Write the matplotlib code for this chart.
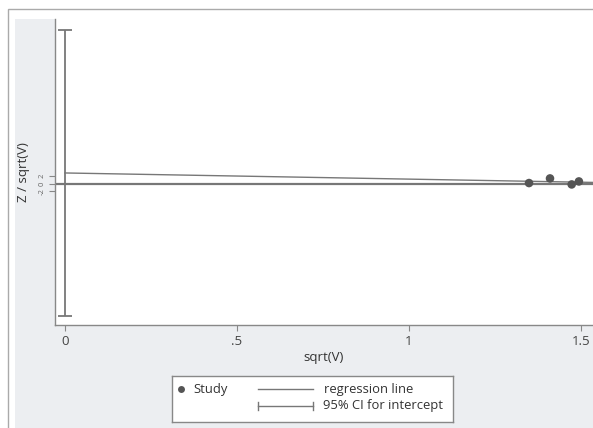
import matplotlib
matplotlib.use("Agg")
import matplotlib.pyplot as plt
import numpy as np

# data
study_x = [1.349, 1.41, 1.473, 1.494]
study_y = [0.18, 1.38, -0.18, 0.6]
intercept = 2.8
slope = -1.6
ci_low, ci_high = -34.3, 39.9
xticks = [0, 0.5, 1, 1.5]
xticklabels = ["0", ".5", "1", "1.5"]
yticks = [-2, 0, 2]
yticklabels = ["-2", "0", "2"]

W, H = 593, 428
bg = "#eceef1"
fig = plt.figure(figsize=(W / 100, H / 100), dpi=100)
fig.patch.set_facecolor("white")
font = "Open Sans"
plt.rcParams["font.family"] = [font, "DejaVu Sans"]

# outer border and gray background panel
fig.patches.append(plt.Rectangle((8 / W, -0.1), 1.2, (428 - 9) / H + 0.1,
                                 transform=fig.transFigure, facecolor="white",
                                 edgecolor="#aaaaaa", linewidth=1.0, zorder=-6))
fig.patches.append(plt.Rectangle((15 / W, -0.1), 1.2, (428 - 19) / H + 0.1,
                                 transform=fig.transFigure, facecolor=bg,
                                 edgecolor="none", zorder=-5))

ax = fig.add_axes([55 / W, (428 - 325) / H, (593 - 55) / W, (325 - 19) / H])
ax.set_facecolor("white")
x0, x1 = -0.029, 1.535
ax.set_xlim(x0, x1)
ax.set_ylim(-36.7, 42.8)

ax.axhline(0, color="#777777", lw=1.6, zorder=2)
xs = np.array([0, x1])
ax.plot(xs, intercept + slope * xs, color="#777777", lw=1.0, zorder=3)
half = (ci_high - ci_low) / 2
ax.errorbar([0], [(ci_low + ci_high) / 2], yerr=[[half], [half]],
            fmt="none", ecolor="#777777", elinewidth=1.3, capsize=4.8, capthick=1.3, zorder=3)
ax.scatter(study_x, study_y, s=38, color="#555555", zorder=4, edgecolors="none")

for s in ["top", "right"]:
    ax.spines[s].set_visible(False)
for s in ["left", "bottom"]:
    ax.spines[s].set_color("#888888")
    ax.spines[s].set_linewidth(1.0)
ax.set_xticks(xticks)
ax.set_xticklabels(xticklabels, fontsize=9.5)
ax.set_yticks(yticks)
ax.set_yticklabels(yticklabels, fontsize=5.5, rotation=90, va="center")
ax.tick_params(axis="both", colors="#888888", length=4, width=0.8, labelcolor="#444444", pad=3)
ax.tick_params(axis="y", labelsize=5.5, labelcolor="#666666")
ax.set_xlabel("sqrt(V)", fontsize=9.5, color="#333333", labelpad=2)
ax.set_ylabel("Z / sqrt(V)", fontsize=9.5, color="#333333", labelpad=6)

# legend
lx0, ly0, lw, lh = 172, 376, 281, 46
lax = fig.add_axes([lx0 / W, (H - ly0 - lh) / H, lw / W, lh / H])
lax.set_xlim(0, lw)
lax.set_ylim(lh, 0)
lax.set_facecolor("white")
lax.set_xticks([])
lax.set_yticks([])
for s in lax.spines.values():
    s.set_color("#888888")
    s.set_linewidth(1.0)
fs = 9.4
r1, r2 = 13, 30
lax.plot([9], [r1], "o", color="#555555", ms=5, mec="none")
lax.text(21, r1, "Study", fontsize=fs, va="center", color="#333333")
lax.plot([86, 141], [r1, r1], color="#777777", lw=1.0)
lax.text(152, r1, "regression line", fontsize=fs, va="center", color="#333333")
lax.plot([86, 141], [r2, r2], color="#777777", lw=1.0)
lax.plot([86, 86], [r2 - 4, r2 + 4], color="#777777", lw=1.0)
lax.plot([141, 141], [r2 - 4, r2 + 4], color="#777777", lw=1.0)
lax.text(151, r2, "95% CI for intercept", fontsize=fs, va="center", color="#333333")

fig.savefig("out.png", dpi=100, facecolor=fig.get_facecolor())
